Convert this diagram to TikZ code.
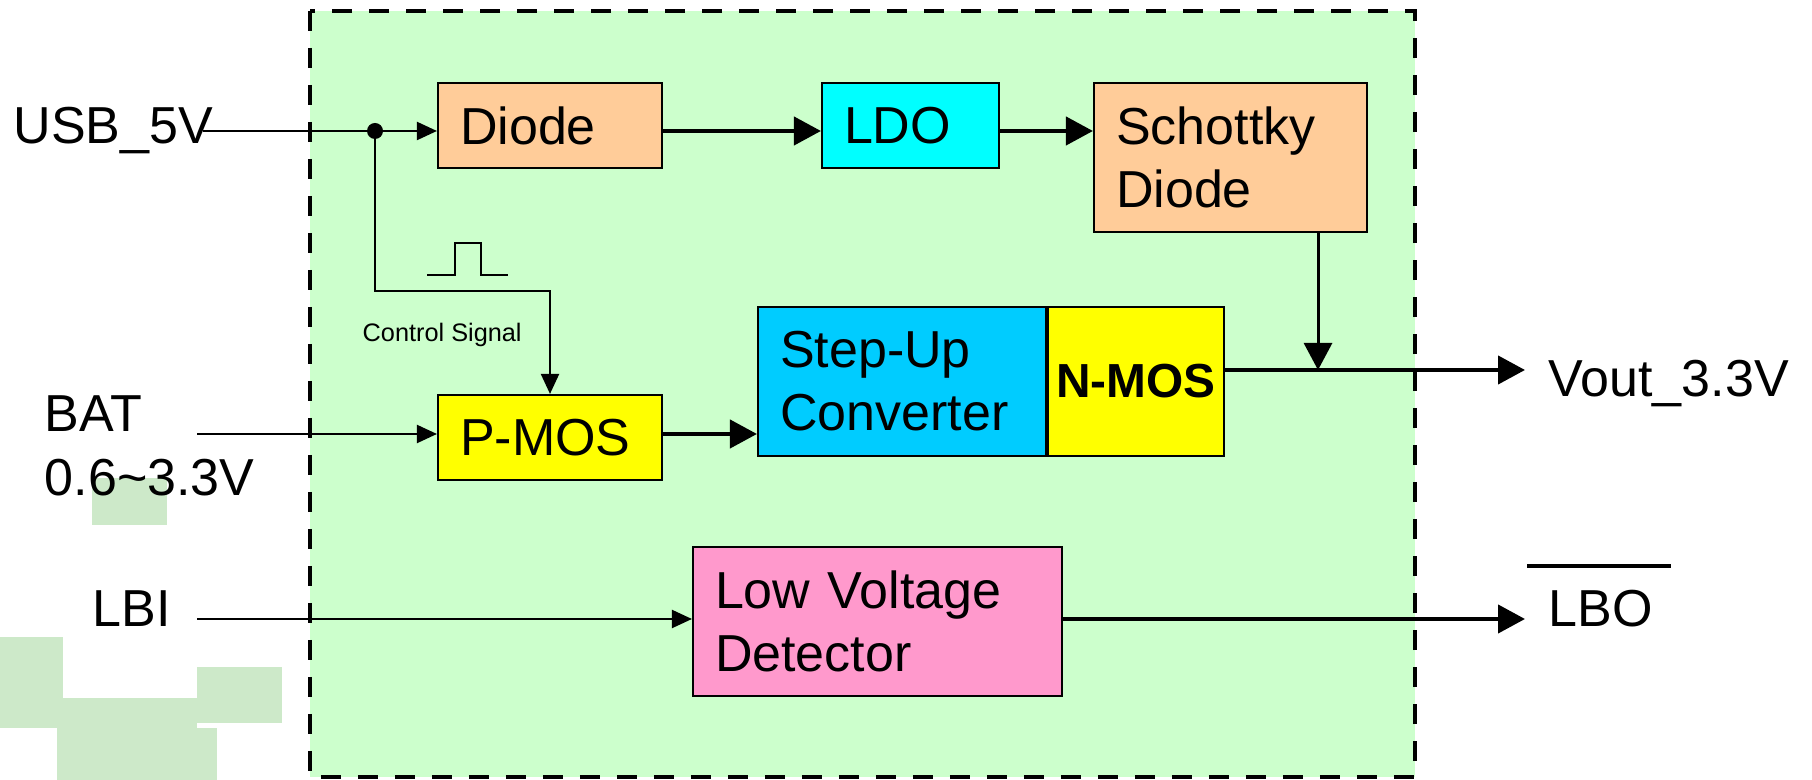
\documentclass[tikz,border=0pt]{standalone}
\usepackage{fontspec}
\setmainfont{Liberation Sans}
\usetikzlibrary{arrows.meta}

\definecolor{bggreen}{HTML}{CCFFCC}
\definecolor{wmgreen}{HTML}{CDE9C9}
\definecolor{peach}{HTML}{FFCC99}
\definecolor{ldocyan}{HTML}{00FFFF}
\definecolor{boostblue}{HTML}{00CCFF}
\definecolor{mosyellow}{HTML}{FFFF00}
\definecolor{detpink}{HTML}{FF99CC}

\begin{document}
\begin{tikzpicture}[x=0.1mm,y=-0.1mm,
        block/.style={draw,line width=0.6pt,inner xsep=2.2mm,inner ysep=0pt,align=left,
                      font=\fontsize{14.8}{17.9}\selectfont},
        lbl/.style={anchor=base west,inner sep=0pt,font=\fontsize{14.8}{17.9}\selectfont},
        sigarrow/.style={line width=0.6pt,-{Triangle[length=2mm,width=1.8mm]}},
        pwrarrow/.style={line width=1.2pt,-{Triangle[length=2.7mm,width=2.8mm]}}]

    \useasboundingbox (0,0) rectangle (1812,780);
    \fill[white] (0,0) rectangle (1812,780);

    % Watermark
    \fill[wmgreen] (92,478) rectangle (167,525);
    \fill[wmgreen] (0,637) rectangle (63,728);
    \fill[wmgreen] (63,698) rectangle (197,728);
    \fill[wmgreen] (197,667) rectangle (282,723);
    \fill[wmgreen] (57,728) rectangle (217,780);

    % Chip outline
    \draw[fill=bggreen,line width=0.45mm,dash pattern=on 2mm off 1.7mm] (310,11) rectangle (1415,777);

    % Top row
    \node[block,fill=peach,text width=18mm,minimum height=8.5mm] (diode) at (550,125.5) {Diode};
    \node[block,fill=ldocyan,text width=13.3mm,minimum height=8.5mm] (ldo) at (910.5,125.5) {LDO};
    \node[block,fill=peach,text width=22.9mm,minimum height=14.9mm] (schottky) at (1230.5,157.5) {Schottky\\Diode};

    % Middle row
    \node[block,fill=mosyellow,text width=18mm,minimum height=8.5mm] (pmos) at (550,437.5) {P-MOS};
    \node[block,fill=boostblue,text width=24.4mm,minimum height=14.9mm] (stepup) at (902,381.5) {Step-Up\\Converter};
    \node[block,fill=mosyellow,inner xsep=0.3mm,text width=17mm,minimum height=14.9mm,align=center,
          font=\fontsize{13.6}{16}\selectfont\bfseries,anchor=west] (nmos) at (stepup.east) {N-MOS};

    % Bottom row
    \node[block,fill=detpink,text width=32.5mm,minimum height=14.9mm] (lvd) at (877.5,621.5) {Low Voltage\\Detector};

    % Pins
    \node[lbl] (usb) at (13,144) {USB\_5V};
    \node[lbl] (bat) at (44,432) {BAT};
    \node[lbl] (batrange) at (44,496) {0.6\textasciitilde 3.3V};
    \node[lbl] (lbi) at (92,627) {LBI};
    \node[lbl] (voutlbl) at (1548,397) {Vout\_3.3V};
    \node[lbl] (lbolbl) at (1548,627) {LBO};
    \draw[line width=1.2pt] (1527,566) -- (1671,566);
    \node[anchor=base west,inner sep=0pt,font=\fontsize{7.2}{8}\selectfont] (ctrl) at (362,342) {Control Signal};

    \coordinate (usbin) at (203,131);
    \coordinate (dot) at (375,131);
    \coordinate (batin) at (197,434);
    \coordinate (lbiin) at (197,619);
    \coordinate (merge) at (1318,370);
    \coordinate (vout) at (1525,370);
    \coordinate (lbo) at (1525,619);

    % Edges
    \draw[sigarrow] (usbin) -- (diode.west |- usbin);
    \fill (dot) circle (0.8mm);
    \draw[pwrarrow] (diode.east |- usbin) -- (ldo.west |- usbin);
    \draw[pwrarrow] (ldo.east |- usbin) -- (schottky.west |- usbin);
    \draw[sigarrow] (dot) -- ++(0,160) -| (pmos.north);
    \draw[line width=0.5pt] (427,275) -- ++(28,0) -- ++(0,-32) -- ++(26,0) -- ++(0,32) -- ++(27,0);
    \draw[sigarrow] (batin) -- (pmos.west |- batin);
    \draw[pwrarrow] (pmos.east |- batin) -- (stepup.west |- batin);
    \draw[line width=0.85pt,-{Triangle[length=2.7mm,width=2.8mm]}] (schottky.south -| merge) -- (merge);
    \draw[pwrarrow] (nmos.east |- vout) -- (vout);
    \draw[sigarrow] (lbiin) -- (lvd.west |- lbiin);
    \draw[pwrarrow] (lvd.east |- lbo) -- (lbo);
\end{tikzpicture}
\end{document}
